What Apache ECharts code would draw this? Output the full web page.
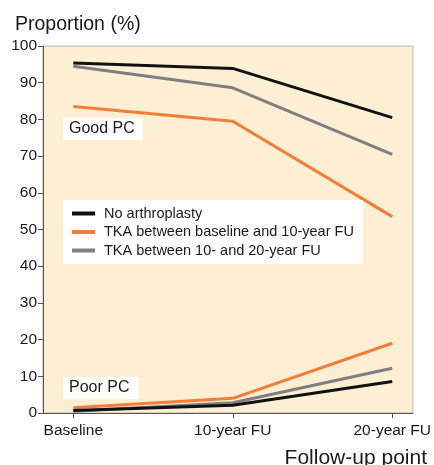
<!DOCTYPE html>
<html>
<head>
<meta charset="utf-8">
<script src="https://cdn.jsdelivr.net/npm/echarts@6/dist/echarts.min.js"></script>
<style>
  html, body { margin: 0; padding: 0; background: #fff; }
  #chart { width: 434px; height: 465px; }
</style>
</head>
<body>
<div id="chart"></div>
<script>
// follow-up points
const categories = ["Baseline", "10-year FU", "20-year FU"];
const yTicks = [0, 10, 20, 30, 40, 50, 60, 70, 80, 90, 100];

// good physical condition (%)
const goodNone = [95.4, 93.9, 80.5];
const goodTkaEarly = [83.5, 79.5, 53.5];
const goodTkaLate = [94.5, 88.6, 70.5];

// poor physical condition (%)
const poorNone = [0.7, 2.1, 8.6];
const poorTkaEarly = [1.4, 4.0, 19.0];
const poorTkaLate = [0.5, 2.8, 12.2];

const names = ["No arthroplasty", "TKA between baseline and 10-year FU", "TKA between 10- and 20-year FU"];
const colors = ["#111111", "#f47d3a", "#7f7f82"];

function pts(arr) {
  return arr.map((v, i) => [i, v]);
}

function line(name, arr, color, z) {
  return {
    name: name,
    type: "line",
    data: pts(arr),
    symbol: "none",
    z: z,
    lineStyle: { color: color, width: 3 },
    itemStyle: { color: color },
  };
}

const font = "Liberation Sans, Arial, sans-serif";

const chart = echarts.init(document.getElementById("chart"));
chart.setOption({
  animation: false,
  textStyle: { fontFamily: font },
  grid: {
    left: 43, right: 20, top: 46, bottom: 52,
    show: true,
    backgroundColor: "#fdefd3",
    borderColor: "#b5b5b5",
    borderWidth: 1,
  },
  title: [
    {
      text: "Proportion (%)",
      left: 10, top: 10,
      textStyle: { fontSize: 19.5, fontWeight: "normal", color: "#1a1a1a", fontFamily: font },
    },
    {
      text: "Follow-up point",
      right: 2, top: 443,
      textStyle: { fontSize: 21, fontWeight: "normal", color: "#1a1a1a", fontFamily: font },
    },
  ],
  legend: {
    orient: "vertical",
    left: 63, top: 200,
    width: 304,
    padding: [6, 9, 6, 9],
    itemGap: 3.5,
    itemWidth: 23,
    itemHeight: 4,
    icon: "rect",
    backgroundColor: "#ffffff",
    data: names,
    textStyle: { fontSize: 14.5, color: "#1a1a1a", fontFamily: font, padding: [0, 0, 0, 4] },
  },
  xAxis: {
    type: "value",
    min: -0.19,
    max: 2.13,
    splitLine: { show: false },
    axisLine: { show: true, onZero: false, lineStyle: { color: "#555", width: 1 } },
    axisTick: { show: true, length: 5, customValues: [0, 1, 2], lineStyle: { color: "#555" } },
    axisLabel: {
      customValues: [0, 1, 2],
      formatter: (v) => categories[Math.round(v)],
      fontSize: 15.5,
      color: "#1a1a1a",
      margin: 10,
    },
  },
  yAxis: {
    type: "value",
    min: 0,
    max: 100,
    interval: 10,
    splitLine: { show: false },
    axisLine: { show: true, onZero: false, lineStyle: { color: "#555", width: 1 } },
    axisTick: { show: true, length: 5, lineStyle: { color: "#555" } },
    axisLabel: { fontSize: 15.5, color: "#1a1a1a", margin: 6 },
  },
  graphic: [
    {
      type: "text",
      left: 63, top: 118,
      z: 10,
      style: {
        text: "Good PC",
        font: "16px " + font,
        fill: "#1a1a1a",
        backgroundColor: "#ffffff",
        padding: [3, 8, 3, 6],
      },
    },
    {
      type: "text",
      left: 63, top: 377,
      z: 10,
      style: {
        text: "Poor PC",
        font: "16px " + font,
        fill: "#1a1a1a",
        backgroundColor: "#ffffff",
        padding: [3, 9, 3, 6],
      },
    },
  ],
  series: [
    line(names[1], goodTkaEarly, colors[1], 2),
    line(names[2], goodTkaLate, colors[2], 3),
    line(names[0], goodNone, colors[0], 4),
    line(names[1], poorTkaEarly, colors[1], 2),
    line(names[2], poorTkaLate, colors[2], 3),
    line(names[0], poorNone, colors[0], 4),
  ],
});
</script>
</body>
</html>
